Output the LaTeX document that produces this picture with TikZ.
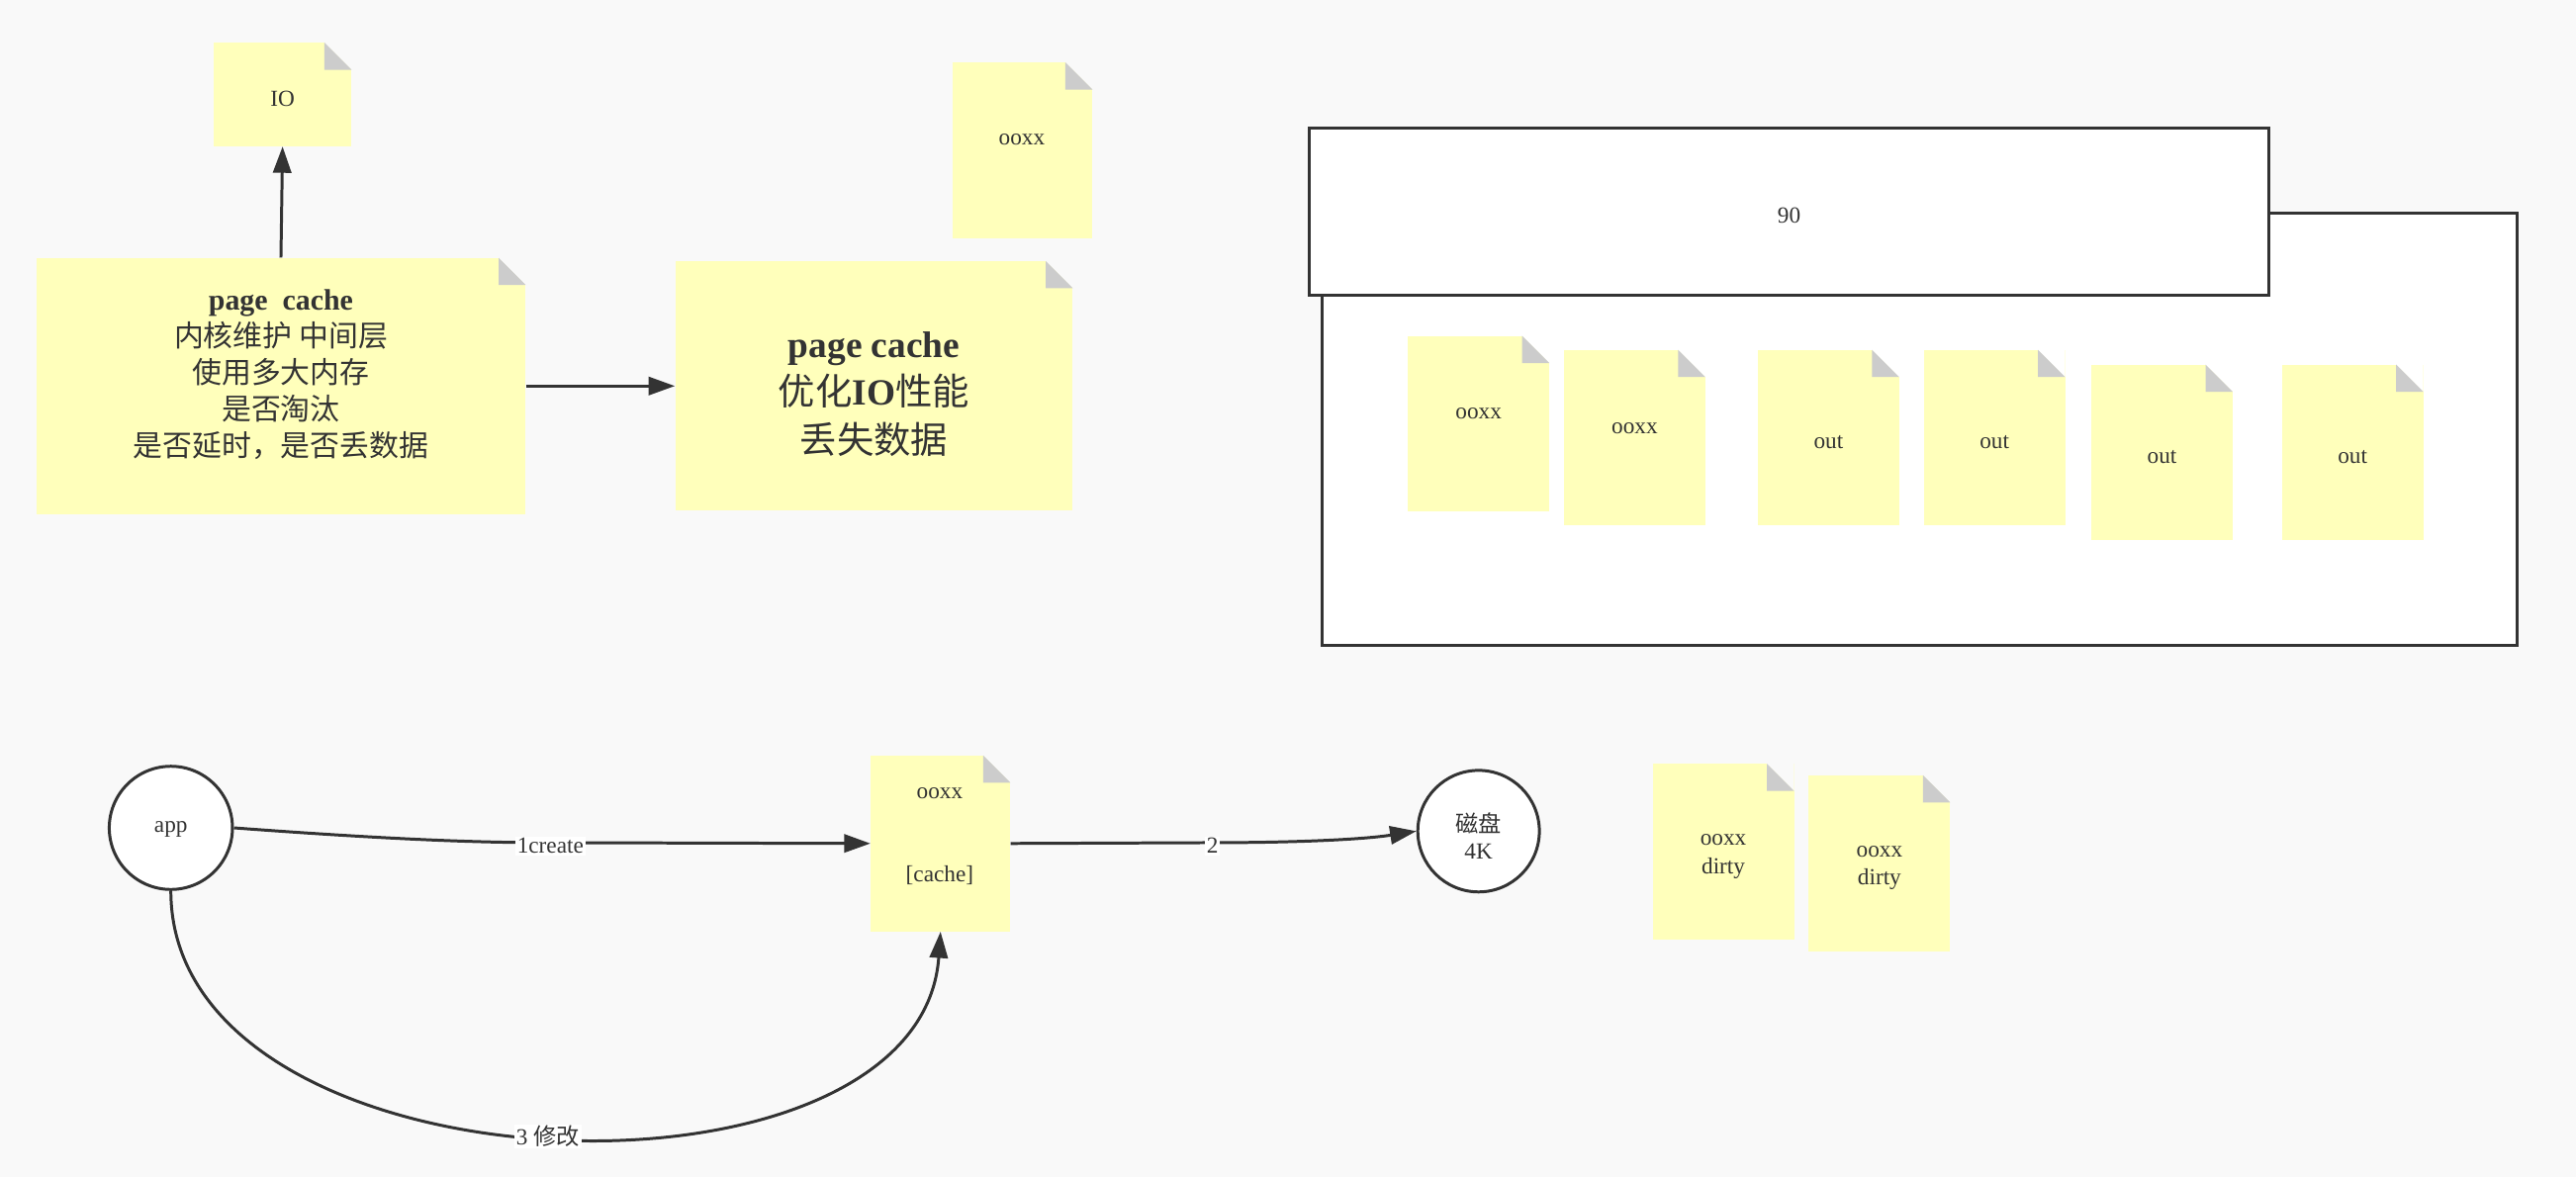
\documentclass[tikz,border=0pt]{standalone}
\usepackage{fontspec}
\setmainfont{Liberation Serif}
\newfontfamily\cjk{Noto Sans CJK SC}
\usetikzlibrary{arrows.meta}
\definecolor{bg}{HTML}{F9F9F9}
\definecolor{notey}{HTML}{FFFFBB}
\definecolor{foldc}{HTML}{CCCCCC}
\definecolor{ink}{HTML}{333333}
\def\notecornercol{bg}
\begin{document}
\begin{tikzpicture}[x=1pt,y=-1pt,
  foldbg/.code={\def\notecornercol{#1}},
  note/.style={rectangle, fill=notey, inner sep=0pt,
    minimum width=86pt, minimum height=107pt,
    path picture={
      \fill[\notecornercol] ([xshift=-16.5pt]path picture bounding box.north east) -- (path picture bounding box.north east) -- ([yshift=-16.5pt]path picture bounding box.north east) -- cycle;
      \fill[foldc] ([xshift=-16.5pt]path picture bounding box.north east) -- ([xshift=-16.5pt,yshift=-16.5pt]path picture bounding box.north east) -- ([yshift=-16.5pt]path picture bounding box.north east) -- cycle;
    }},
  inote/.style={note, foldbg=white},
  txt/.style={inner sep=0pt, align=center, text=ink, font=\fontsize{14}{17}\selectfont},
  circ/.style={circle, draw=ink, line width=1.8pt, fill=white, minimum size=75pt, inner sep=0pt, align=center, text=ink, font=\fontsize{14}{20}\selectfont},
  frame/.style={rectangle, draw=ink, line width=1.8pt, fill=white, inner sep=0pt, text=ink, font=\fontsize{14}{17}\selectfont},
  conn/.style={draw=ink, line width=1.8pt, -{Triangle[length=16pt,width=11pt]}},
  lbl/.style={fill=white, inner sep=1pt, text=ink, font=\fontsize{14}{15}\selectfont}
]
\useasboundingbox (0,0) rectangle (1568,716.6);
\fill[bg] (0,0) rectangle (1568,716.6);

% top-left group
\node[note, minimum width=84pt, minimum height=63pt] (io) at (172,57.5) {};
\node[txt] at (172,60) {IO};
\node[note, minimum width=298pt, minimum height=156pt] (pc1) at (171,235) {};
\node[txt, font=\fontsize{18}{22.2}\selectfont] at (171,228)
  {\textbf{page\ \ cache}\\ {\cjk 内核维护 中间层}\\ {\cjk 使用多大内存}\\ {\cjk 是否淘汰}\\ {\cjk 是否延时，是否丢数据}};
\node[note, minimum width=242pt, minimum height=152pt] (pc2) at (532,235) {};
\node[txt, font=\fontsize{22.5}{29}\selectfont] at (532,240)
  {\textbf{page cache}\\ {\cjk 优化}\textbf{IO}{\cjk 性能}\\ {\cjk 丢失数据}};
\node[note, minimum width=85pt, minimum height=107pt] (ootop) at (622.5,91.5) {};
\node[txt] at (622,85) {ooxx};

\draw[conn] (pc1.north) -- (io.south);
\draw[conn] (pc1.east) -- (pc2.west);

% framed group
\node[frame, minimum width=727pt, minimum height=263pt] (outer) at (1168.5,261.5) {};
\node[frame, minimum width=584pt, minimum height=102pt] (hdr) at (1089,129) {};
\node[txt] at (1089,131) {90};
\node[inote] (n1) at (900,258) {};
\node[inote] (n2) at (995,266.5) {};
\node[inote] (n3) at (1113,266.5) {};
\node[inote] (n4) at (1214,266.5) {};
\node[inote] (n5) at (1316,275.5) {};
\node[inote] (n6) at (1432,275.5) {};
\node[txt] at (900,252) {ooxx};
\node[txt] at (995,261) {ooxx};
\node[txt] at (1113,269) {out};
\node[txt] at (1214,269) {out};
\node[txt] at (1316,278) {out};
\node[txt] at (1432,278) {out};

% bottom group
\node[circ] (app) at (104,504) {};
\node[txt] at (104,505) {app};
\node[circ, minimum size=74pt] (disk) at (900,506) {};
\node[txt, font=\fontsize{14}{16.5}\selectfont] at (900,509) {{\cjk 磁盘}\\4K};
\node[note, minimum width=85pt] (cache) at (572.5,513.5) {};
\node[txt] at (572,483) {ooxx};
\node[txt] at (572,533) {[cache]};
\node[note] (d1) at (1049,518.5) {};
\node[note] (d2) at (1144,525.5) {};
\node[txt] at (1049,521.5) {ooxx\\dirty};
\node[txt] at (1144,528.5) {ooxx\\dirty};

\draw[conn] (app.east) .. controls (250,512) and (300,513) .. (335,513) node[lbl, yshift=-2pt] {1create} -- (cache.west);
\draw[conn] (cache.east) -- (738,513) node[lbl, yshift=-2pt] {2} .. controls (790,513) and (830,511) .. (disk.west);
\draw[conn] (app.south) .. controls (104,730) and (560,745) .. node[lbl, pos=0.5] {3 {\cjk 修改}} (cache.south);
\end{tikzpicture}
\end{document}
